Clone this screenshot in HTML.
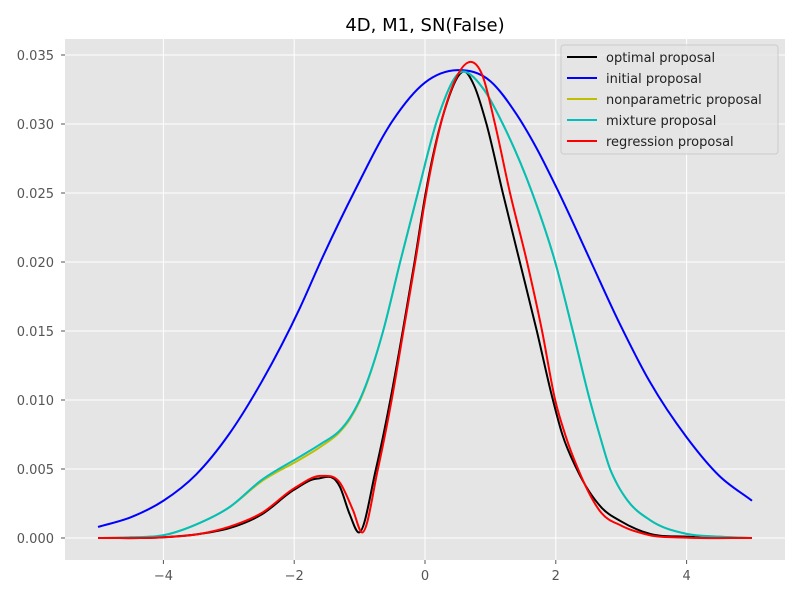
<!DOCTYPE html>
<html><head><meta charset="utf-8"><style>
body{margin:0;background:#fff;}
svg{display:block;font-family:"DejaVu Sans","Liberation Sans",sans-serif;}
</style></head><body>
<svg id="chart" width="800" height="600">
<text x="425" y="31" text-anchor="middle" font-size="18" fill="#000">4D, M1, SN(False)</text>
<rect x="65" y="39" width="720" height="521" fill="#e5e5e5"/>
<g id="grid"></g><g id="series"></g><g id="axes"></g><g id="legend"></g>
</svg>
<script>
const xTicks=[-4,-2,0,2,4];
const yTicks=[0,0.005,0.01,0.015,0.02,0.025,0.03,0.035];
const yTickLabels=["0.000","0.005","0.010","0.015","0.020","0.025","0.030","0.035"];
const seriesNames=["optimal proposal","initial proposal","nonparametric proposal","mixture proposal","regression proposal"];
const optimalX=[-5,-4,-3.44,-3,-2.5,-2,-1.65,-1.3,-1.15,-1.01,-0.75,-0.53,-0.34,-0.16,0.01,0.3,0.6,0.75,0.94,1.19,1.45,1.71,1.94,2.1,2.32,2.7,3,3.44,4,5];
const optimalY=[0,0.00005,0.0003,0.0007,0.0017,0.0035,0.0043,0.0037,0.0017,0.0004,0.005,0.010,0.015,0.020,0.025,0.031,0.0338,0.0328,0.030,0.025,0.020,0.015,0.0103,0.0075,0.005,0.0022,0.0012,0.0003,0.0001,0];
const initialX=[-5,-4.5,-4,-3.5,-3,-2.5,-1.91,-1.58,-1.07,-0.5,0,0.5,1,1.4,1.7,2.03,2.52,2.98,3.44,4,4.5,5];
const initialY=[0.0008,0.0015,0.0027,0.0046,0.0075,0.0113,0.0167,0.0202,0.0252,0.0302,0.0330,0.0339,0.0331,0.0307,0.0283,0.0252,0.0202,0.0155,0.0113,0.0073,0.0045,0.0027];
const nonparamX=[-5,-4.5,-4,-3.44,-3,-2.5,-1.91,-1.6,-1.3,-1.15,-1.0,-0.64,-0.38,-0.11,0.2,0.58,0.9,1.19,1.64,1.99,2.26,2.52,2.68,2.83,2.95,3.1,3.44,4,4.5,5];
const nonparamY=[0,0.00005,0.0002,0.0011,0.0022,0.0041,0.0057,0.0066,0.0077,0.0086,0.0099,0.015,0.020,0.025,0.0305,0.0338,0.0325,0.030,0.025,0.020,0.015,0.010,0.0073,0.005,0.0038,0.0027,0.0013,0.0003,0.0001,0];
const mixtureX=[-5,-4.5,-4,-3.44,-3,-2.5,-1.91,-1.6,-1.3,-1.15,-1.0,-0.64,-0.38,-0.11,0.2,0.58,0.9,1.19,1.64,1.99,2.26,2.52,2.68,2.83,2.95,3.1,3.44,4,4.5,5];
const mixtureY=[0,0.00005,0.0002,0.0011,0.0022,0.0042,0.0059,0.0068,0.0078,0.0087,0.010,0.015,0.020,0.025,0.0305,0.0338,0.0325,0.030,0.025,0.020,0.015,0.010,0.0073,0.005,0.0038,0.0027,0.0013,0.0003,0.0001,0];
const regressionX=[-5,-4,-3.44,-3,-2.5,-2,-1.58,-1.3,-1.1,-0.96,-0.72,-0.51,-0.33,-0.15,0.02,0.35,0.7,0.88,1.07,1.30,1.56,1.79,1.99,2.15,2.34,2.7,3,3.44,4,5];
const regressionY=[0,0.00005,0.0003,0.0008,0.0018,0.0036,0.0045,0.0040,0.0020,0.0004,0.005,0.010,0.015,0.020,0.025,0.0318,0.0345,0.0335,0.030,0.025,0.020,0.015,0.010,0.0074,0.005,0.0018,0.0009,0.0002,0.00003,0];
const colors=["#000000","#0000ff","#bfbf00","#00bfbf","#ff0000"];
const NS="http://www.w3.org/2000/svg";
const sx=v=>425+v*65.4;
const sy=v=>538-v*13800;
function mk(tag,attrs,parent){const e=document.createElementNS(NS,tag);for(const k in attrs)e.setAttribute(k,attrs[k]);parent.appendChild(e);return e;}
const grid=document.getElementById('grid'),axes=document.getElementById('axes');
xTicks.forEach((t,i)=>{
  const g=mk('line',{x1:sx(t),x2:sx(t),y1:39,y2:560,stroke:'#fff','stroke-width':1},grid);
  
  
  const tk=mk('line',{x1:sx(t),x2:sx(t),y1:560,y2:564,stroke:'#555'},axes);
  
  
  const l=mk('text',{x:sx(t),y:580,'text-anchor':'middle','font-size':13,fill:'#555'},axes);
  l.textContent=(t<0?'\u2212'+(-t):String(t));
  
  
});
yTicks.forEach((t,i)=>{
  const g=mk('line',{x1:65,x2:785,y1:sy(t),y2:sy(t),stroke:'#fff','stroke-width':1},grid);
  
  
  const tk=mk('line',{x1:61,x2:65,y1:sy(t),y2:sy(t),stroke:'#555'},axes);
  
  
  const l=mk('text',{x:54,y:sy(t)+5,'text-anchor':'end','font-size':13,fill:'#555'},axes);
  l.textContent=yTickLabels[i];
  
  
});
function smoothPath(xs,ys){
  const n=xs.length,px=xs.map(sx),py=ys.map(sy);
  const d=[],m=new Array(n);
  for(let i=0;i<n-1;i++)d.push((py[i+1]-py[i])/(px[i+1]-px[i]));
  m[0]=d[0];m[n-1]=d[n-2];
  for(let i=1;i<n-1;i++){
    if(d[i-1]*d[i]<=0 && Math.max(Math.abs(d[i-1]),Math.abs(d[i]))>0.6){m[i]=0;continue;}
    const h0=px[i]-px[i-1],h1=px[i+1]-px[i];
    m[i]=(d[i-1]*h1+d[i]*h0)/(h0+h1);
  }
  let s='M'+px[0].toFixed(2)+','+py[0].toFixed(2);
  for(let i=0;i<n-1;i++){const h=px[i+1]-px[i];
    s+=' C'+(px[i]+h/3).toFixed(2)+','+(py[i]+m[i]*h/3).toFixed(2)+' '+(px[i+1]-h/3).toFixed(2)+','+(py[i+1]-m[i+1]*h/3).toFixed(2)+' '+px[i+1].toFixed(2)+','+py[i+1].toFixed(2);}
  return s;
}
const ser=document.getElementById('series');
const allX=[optimalX,initialX,nonparamX,mixtureX,regressionX],allY=[optimalY,initialY,nonparamY,mixtureY,regressionY];
const slugs=["optimal-proposal-line","initial-proposal-line","nonparametric-proposal-line","mixture-proposal-line","regression-proposal-line"];
for(let k=0;k<5;k++){
  const p=mk('path',{d:smoothPath(allX[k],allY[k]),fill:'none',stroke:colors[k],'stroke-width':2,'stroke-linejoin':'round'},ser);
  
  
}
const lg=document.getElementById('legend');
const box=mk('rect',{x:561,y:45,width:217,height:109,rx:3,fill:'#e5e5e5','fill-opacity':0.8,stroke:'#ccc'},lg);


seriesNames.forEach((nm,i)=>{
  const y=57+i*21;
  const ln=mk('line',{x1:567,x2:597,y1:y,y2:y,stroke:colors[i],'stroke-width':2},lg);
  
  
  const t=mk('text',{x:606,y:y+5,'font-size':13,fill:'#222'},lg);
  t.textContent=nm;
  
  
});
</script>
</body></html>
